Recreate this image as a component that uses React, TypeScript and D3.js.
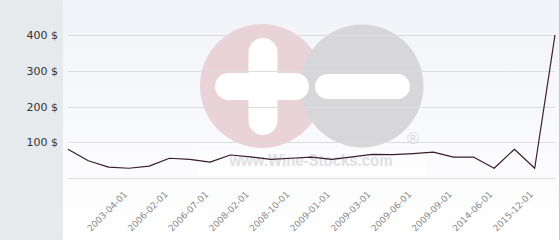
import React from "react";
import * as d3 from "d3";

const categories: string[] = [
  "", "", "", "2003-04-01", "", "2006-02-01", "", "2006-07-01", "", "2008-02-01",
  "", "2008-10-01", "", "2009-01-01", "", "2009-03-01", "", "2009-06-01", "",
  "2009-09-01", "", "2014-06-01", "", "2015-12-01", "",
];
const prices: number[] = [
  81, 49, 31, 28, 34, 56, 53, 45, 65, 60, 53, 56, 59, 53, 60, 67, 66, 69, 73,
  59, 59, 28, 81, 28, 400,
];
const yTicks: number[] = [0, 100, 200, 300, 400];

const W = 560;
const H = 240;

export default function App() {
  const idx = prices.map((_, i) => i);
  const x = d3.scalePoint<number>().domain(idx).range([68, 555]);
  const y = d3.scaleLinear().domain([0, 400]).range([178.3, 35]);
  const line = d3
    .line<number>()
    .x((_, i) => x(i) as number)
    .y((d) => y(d));

  return (
    <svg
      width={W}
      height={H}
      style={{ position: "absolute", left: 0, top: 0 }}
      fontFamily="DejaVu Sans, sans-serif"
    >
      <defs>
        <linearGradient id="bg" x1="0" y1="0" x2="0" y2="1">
          <stop offset="0" stopColor="#f2f3f8" />
          <stop offset="1" stopColor="#ffffff" />
        </linearGradient>
      </defs>
      <rect x={0} y={0} width={63} height={H} fill="#e6eaed" />
      <rect x={63} y={0} width={496} height={H} fill="url(#bg)" />
      <line x1={559.5} x2={559.5} y1={0} y2={H} stroke="#c8c8c8" />

      {/* watermark */}
      <g>
        <circle cx={262} cy={86} r={62} fill="#e9d3d9" />
        <circle cx={362} cy={86} r={61.5} fill="#d7d7d9" />
        <rect x={248.5} y={38} width={29} height={97} rx={14.5} fill="#ffffff" />
        <rect x={215} y={73} width={94} height={27} rx={13.5} fill="#ffffff" />
        <rect x={315} y={74} width={95} height={25} rx={12.5} fill="#ffffff" />
        <rect x={197} y={150} width={230} height={26} fill="#ffffff" opacity={0.55} />
        <text
          x={311}
          y={165.5}
          textAnchor="middle"
          fontFamily="Liberation Sans, Arial, sans-serif"
          fontWeight="bold"
          fontSize={16}
          fill="#e0e0e2"
          textLength={163}
          lengthAdjust="spacingAndGlyphs"
        >
          www.Wine-Stocks.com
        </text>
        <text
          x={413}
          y={144}
          textAnchor="middle"
          fontFamily="Liberation Sans, Arial, sans-serif"
          fontSize={16}
          fill="#d9d9db"
        >
          ®
        </text>
      </g>

      {/* grid */}
      {yTicks.map((t) => (
        <line
          key={t}
          x1={68}
          x2={555}
          y1={Math.round(y(t)) + 0.5}
          y2={Math.round(y(t)) + 0.5}
          stroke="#dcdcdc"
        />
      ))}
      {yTicks
        .filter((t) => t > 0)
        .map((t) => (
          <text
            key={t}
            x={58}
            y={y(t)}
            dy="0.35em"
            textAnchor="end"
            fontSize={11}
            fill="#333"
          >
            {`${t} $`}
          </text>
        ))}

      <path
        d={line(prices) || ""}
        fill="none"
        stroke="#3a1c2c"
        strokeWidth={1.2}
        strokeLinejoin="round"
      />

      {categories.map((c, i) =>
        c ? (
          <text
            key={i}
            transform={`translate(${(x(i) as number) - 1},${195}) rotate(-45)`}
            textAnchor="end"
            fontSize={9}
            fill="#8a8a8a"
          >
            {c}
          </text>
        ) : null
      )}
    </svg>
  );
}
